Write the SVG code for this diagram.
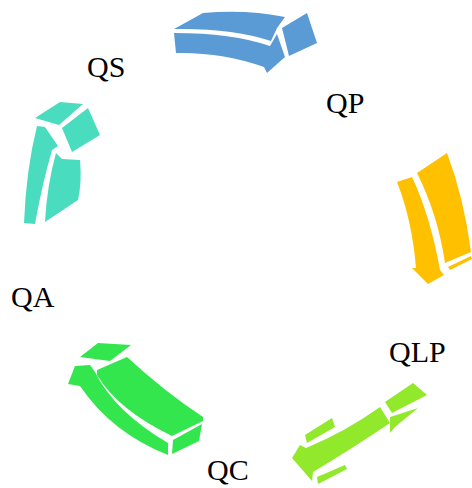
<svg xmlns="http://www.w3.org/2000/svg" width="472" height="488" viewBox="0 0 472 488">
  <style>
    .lbl { font-family: "Liberation Serif", "Times New Roman", serif; font-size: 30px; fill: #000; }
    .blue { fill: #5b9bd5; }
    .teal { fill: #49dcbf; }
    .gold { fill: #ffc000; }
    .lime { fill: #92e82a; }
    .green { fill: #33e64d; }
  </style>
  <rect width="472" height="488" fill="#fff"/>

  <!-- curved 3D arrows, clockwise cycle -->
  <g id="connectors">
    <g id="arrow-qs-qp" class="blue">
      <path d="M174,29 L203,13 Q246,9 285,17 L277,28 L271,41 Q232,28 174,29 Z"/>
      <path d="M174,33 Q232,33 270,46 L277,34 L285,57 L267,73 L264,67 Q222,52 176,53 Z"/>
      <path d="M282,28 L307,13 L317,43 L289,56 Z"/>
    </g>
    <g id="arrow-qp-qlp" class="gold">
      <path d="M397,182 L412,177 Q430,215 440,270 L444,275 L428,284 L412,268 L416,268 Q412,220 397,182 Z"/>
      <path d="M417,173 L447,153 Q464,198 471,252 L445,263 Q438,215 417,173 Z"/>
      <path d="M448,267 L471,256 L472,259 L450,270 Z"/>
    </g>
    <g id="arrow-qlp-qc" class="lime">
      <path d="M385,402 L413,383 L427,395 L392,413 Z"/>
      <path d="M390,417 L418,408 L395,427 L390,433 Z"/>
      <path d="M380,407 L390,423 Q350,450 313,472 L312,481 L292,458 L300,445 L306,448 Q345,432 380,407 Z"/>
      <path d="M305,435 L332,418 L335,427 L307,443 Z"/>
      <path d="M317,477 L345,465 L347,469 L318,484 Z"/>
    </g>
    <g id="arrow-qc-qa" class="green">
      <path d="M80,357 L98,343 L131,345 L110,361 Z"/>
      <path d="M68,384 L75,366 L90,365 L95,372 Q115,412 168,443 L168,455 Q112,433 80,386 Z"/>
      <path d="M97,370 L127,357 Q165,392 203,417 L203,421 L172,436 Q118,410 97,375 Z"/>
      <path d="M173,440 L202,424 L199,441 L172,454 Z"/>
    </g>
    <g id="arrow-qa-qs" class="teal">
      <path d="M35,118 L60,102 L83,104 L59,125 Z"/>
      <path d="M62,128 L88,108 L100,135 L72,152 Z"/>
      <path d="M37,126 L45,127 L58,146 L52,150 Q42,185 35,224 L24,223 Q26,170 37,126 Z"/>
      <path d="M56,153 L62,159 L80,160 Q82,182 78,200 L45,222 Q47,185 56,153 Z"/>
    </g>
  </g>

  <g id="node-qs"><text class="lbl" x="87" y="77">QS</text></g>
  <g id="node-qp"><text class="lbl" x="326" y="113">QP</text></g>
  <g id="node-qlp"><text class="lbl" x="389" y="362">QLP</text></g>
  <g id="node-qc"><text class="lbl" x="207" y="480">QC</text></g>
  <g id="node-qa"><text class="lbl" x="11" y="307">QA</text></g>
</svg>
